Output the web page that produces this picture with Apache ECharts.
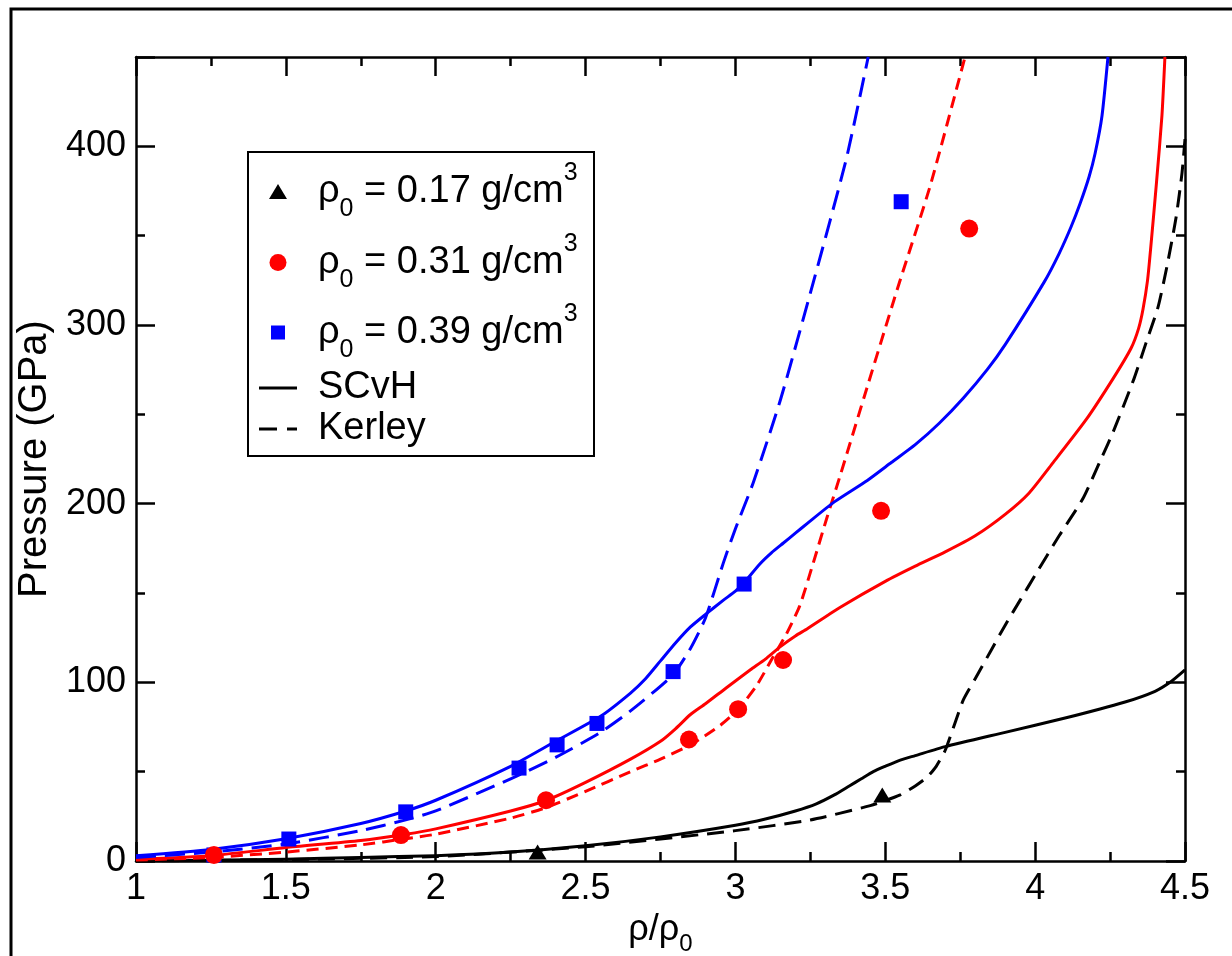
<!DOCTYPE html>
<html>
<head>
<meta charset="utf-8">
<script src="https://cdn.jsdelivr.net/npm/echarts@6/dist/echarts.min.js"></script>
<style>html,body{margin:0;padding:0;background:#fff;}#c{width:1232px;height:956px;}</style>
</head>
<body>
<div id="c"></div>
<script>
// ---- data (x = rho/rho0, y = pressure GPa) ----
const scvh017 = [[1,0],[1.25,0.4],[1.5,1],[1.75,2],[2,3],[2.25,5],[2.5,8.5],[2.75,13.5],[3,20],[3.1,23.5],[3.2,28],[3.27,32],[3.33,37],[3.38,42],[3.42,46],[3.46,50],[3.5,53],[3.55,56.5],[3.6,59],[3.7,64],[3.9,72],[4.1,80],[4.3,89],[4.4,95],[4.45,100],[4.5,107]];
const kerley017 = [[1,0],[1.5,0.8],[2,2.5],[2.5,8],[3,17],[3.25,23],[3.45,31],[3.55,37],[3.6,42],[3.64,47],[3.67,53],[3.7,62],[3.73,76],[3.76,90],[3.8,102],[3.85,117],[3.9,132],[3.95,146],[4.0,160],[4.08,182],[4.16,203],[4.22,225],[4.26,240],[4.33,270],[4.37,290],[4.41,310],[4.44,333],[4.47,360],[4.49,385],[4.5,404]];
const scvh031 = [[1,1],[1.25,3],[1.5,7.5],[1.75,11.5],[1.9,15],[2,18],[2.25,28],[2.37,34],[2.5,44],[2.65,57],[2.75,67],[2.8,74],[2.85,82],[2.9,88],[2.97,97],[3.05,107],[3.1,113],[3.15,120],[3.2,126],[3.24,130],[3.35,142],[3.5,156.5],[3.6,165],[3.7,173],[3.8,182],[3.9,194],[3.98,206],[4.06,223],[4.17,247],[4.26,270],[4.32,287],[4.345,298],[4.36,309],[4.375,325],[4.385,342],[4.405,380],[4.423,417],[4.433,450]];
const kerley031 = [[1,0.5],[1.25,2],[1.5,5],[1.75,9],[1.9,12.5],[2,15],[2.25,24],[2.37,30],[2.5,39],[2.65,50],[2.75,57],[2.85,65],[2.95,76],[3.01,85],[3.07,98],[3.125,114],[3.17,127],[3.215,143],[3.26,167],[3.305,192],[3.35,216],[3.43,260],[3.54,320],[3.65,378],[3.766,450]];
const scvh039 = [[1,3],[1.25,6.5],[1.5,12.5],[1.75,21],[1.9,28],[2,34],[2.25,53],[2.4,67],[2.55,81],[2.65,94],[2.7,102],[2.75,112],[2.8,122],[2.85,131],[2.9,138],[2.96,146],[3.0,151],[3.03,156],[3.08,166],[3.12,172.5],[3.16,178],[3.2,183.5],[3.24,189],[3.33,201],[3.44,213],[3.52,223],[3.6,233],[3.68,245],[3.76,259],[3.84,275],[3.9,289],[4.03,324],[4.08,340],[4.12,355],[4.15,368],[4.18,383],[4.2,396],[4.223,417],[4.243,450]];
const kerley039 = [[1,2],[1.25,5],[1.5,9.5],[1.75,17],[1.9,23],[2,28],[2.25,46],[2.4,58],[2.55,72],[2.65,84],[2.79,104],[2.85,119],[2.9,136],[2.96,167],[3.0,186],[3.06,212],[3.15,258],[3.26,324],[3.37,393],[3.443,450]];
const sim017 = [[2.34,5],[3.49,37]];
const sim031 = [[1.26,3.4],[1.884,14.5],[2.368,34],[2.845,68],[3.009,85],[3.159,112.5],[3.486,196],[3.78,354]];
const sim039 = [[1.26,3.4],[1.51,12.3],[1.9,27.5],[2.278,52],[2.405,65],[2.538,77],[2.792,106],[3.029,155],[3.553,369]];
const densities = ['0.17','0.31','0.39'];
const seriesNames = ['rho017','rho031','rho039','SCvH','Kerley'];
const xTicks = {min:1, max:4.5, interval:0.5};
const yTicks = {min:0, max:450, interval:100};

const FONT = 'Liberation Sans, Arial, Helvetica, sans-serif';
const BLUE = '#0000ff', RED = '#ff0000', BLACK = '#000000';

const chart = echarts.init(document.getElementById('c'), null, {renderer:'canvas'});

function lineSeries(name, data, color, dash) {
  return {type:'line', name:name, data:data, showSymbol:false, symbol:'none',
    smooth:0.2, clip:true, z:2,
    lineStyle:{color:color, width:3, type:dash||'solid', join:'round'}, itemStyle:{color:color},
    silent:true, legendHoverLink:false};
}
function scatterSeries(name, data, color, symbol, size) {
  return {type:'scatter', name:name, data:data, symbol:symbol, symbolSize:size, z:5,
    itemStyle:{color:color, opacity:1}, clip:true, silent:true};
}

const richLegend = {
  r:{fontSize:38, fontFamily:FONT, color:'#000', lineHeight:70},
  sub:{fontSize:25, fontFamily:FONT, color:'#000', padding:[36,0,0,0]},
  sup:{fontSize:25, fontFamily:FONT, color:'#000', padding:[0,0,36,0]},
  p:{fontSize:38, fontFamily:FONT, color:'#000', lineHeight:44}
};
function legendFmt(name) {
  const i = seriesNames.indexOf(name);
  if (i < 3) return '{r|ρ}{sub|0}{r| = ' + densities[i] + ' g/cm}{sup|3}';
  return '{p|' + name + '}';
}
// centerY: vertical centre of the entry; iw/ih: icon box; icon: optional icon
function legendAt(name, centerY, iw, ih, lh, icon) {
  const left = 278 - iw / 2;
  const l = {orient:'vertical', left:left, top:centerY - lh / 2, itemWidth:iw, itemHeight:ih, itemGap:0,
    padding:0, selectedMode:false, data:[name], formatter:legendFmt, z:20,
    textStyle:{fontFamily:FONT, fontSize:38, color:'#000', padding:[0,0,0, 318 - left - iw - 5], rich:richLegend}};
  if (icon) l.icon = icon;
  return l;
}

const axisCommon = {
  type:'value',
  axisLine:{show:true, onZero:false, lineStyle:{color:'#000', width:2.5}},
  axisTick:{show:true, inside:true, length:19, lineStyle:{color:'#000', width:2.5}},
  minorTick:{show:true, splitNumber:2, length:9, lineStyle:{color:'#000', width:2.5}},
  splitLine:{show:false}, minorSplitLine:{show:false}
};

const option = {
  backgroundColor:'#fff',
  animation:false,
  grid:{left:136, top:57, right:47, bottom:95, containLabel:false, outerBoundsMode:'none'},
  graphic:[
    {type:'rect', shape:{x:11, y:9, width:1300, height:1100}, style:{fill:'none', stroke:'#000', lineWidth:3}, silent:true, z:-1},
    {type:'rect', shape:{x:248, y:152, width:346, height:304}, style:{fill:'#fff', stroke:'#000', lineWidth:2}, silent:true, z:10}
  ],
  legend:[
    legendAt('rho017', 196, 18, 15, 70),
    legendAt('rho031', 267, 17, 17, 70),
    legendAt('rho039', 337, 14, 14, 70),
    legendAt('SCvH', 391, 38, 3, 44, 'path://M0,0H38V3H0Z'),
    legendAt('Kerley', 432, 38, 3, 44, 'path://M0,0H18V3H0ZM28,0H38V3H28Z')
  ],
  xAxis:[
    Object.assign({}, axisCommon, {position:'bottom', min:xTicks.min, max:xTicks.max, interval:xTicks.interval,
      name:'{r|ρ/ρ}{sub|0}', nameLocation:'middle', nameGap:33,
      nameTextStyle:{fontFamily:FONT, color:'#000', rich:{
        r:{fontSize:36, fontFamily:FONT, color:'#000', lineHeight:56},
        sub:{fontSize:24, fontFamily:FONT, color:'#000', padding:[28,0,0,0]}}},
      axisLabel:{show:true, margin:10, fontFamily:FONT, fontSize:36, color:'#000'}}),
    Object.assign({}, axisCommon, {position:'top', min:xTicks.min, max:xTicks.max, interval:xTicks.interval,
      axisLabel:{show:false}})
  ],
  yAxis:[
    Object.assign({}, axisCommon, {position:'left', min:yTicks.min, max:yTicks.max, interval:yTicks.interval,
      name:'Pressure (GPa)', nameLocation:'middle', nameGap:81, nameRotate:90,
      nameTextStyle:{fontFamily:FONT, fontSize:40, color:'#000'},
      axisLabel:{show:true, margin:10, fontFamily:FONT, fontSize:36, color:'#000', showMaxLabel:false}}),
    Object.assign({}, axisCommon, {position:'right', min:yTicks.min, max:yTicks.max, interval:yTicks.interval,
      axisLabel:{show:false}})
  ],
  series:[
    lineSeries('SCvH', [], BLACK, 'solid'),
    lineSeries('Kerley', [], BLACK, [18,10]),
    lineSeries('scvh017', scvh017, BLACK, 'solid'),
    lineSeries('kerley017', kerley017, BLACK, [17,9]),
    lineSeries('scvh031', scvh031, RED, 'solid'),
    lineSeries('kerley031', kerley031, RED, [12,7]),
    lineSeries('scvh039', scvh039, BLUE, 'solid'),
    lineSeries('kerley039', kerley039, BLUE, [20,9]),
    scatterSeries('rho017', sim017, BLACK, 'triangle', [18,15]),
    scatterSeries('rho039', sim039, BLUE, 'rect', 15),
    scatterSeries('rho031', sim031, RED, 'circle', 18)
  ]
};
chart.setOption(option);
</script>
</body>
</html>
